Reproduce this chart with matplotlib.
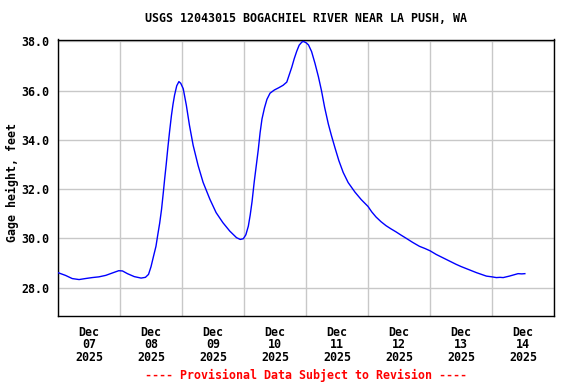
import matplotlib
matplotlib.use("Agg")
import matplotlib.pyplot as plt
import matplotlib.dates as mdates
import numpy as np
import pandas as pd

title = "USGS 12043015 BOGACHIEL RIVER NEAR LA PUSH, WA"
ylabel = "Gage height, feet"
footer = "---- Provisional Data Subject to Revision ----"
start = "2025-12-07 00:00"

# time since Dec 07 2025 00:00, in days
days = [0.00, 0.12, 0.23, 0.34, 0.44, 0.55, 0.66, 0.77, 0.88, 0.98,
        1.04, 1.12, 1.23, 1.34, 1.41, 1.46, 1.50, 1.54, 1.58, 1.61,
        1.64, 1.67, 1.70, 1.72, 1.745, 1.77, 1.80, 1.83, 1.855, 1.88,
        1.915, 1.95, 1.98, 2.02, 2.07, 2.12, 2.18, 2.26, 2.34, 2.45,
        2.55, 2.66, 2.77, 2.88, 2.94, 2.99, 3.03, 3.07, 3.10, 3.13,
        3.165, 3.20, 3.23, 3.26, 3.29, 3.33, 3.37, 3.42, 3.49, 3.56,
        3.63, 3.69, 3.73, 3.77, 3.81, 3.85, 3.89, 3.935, 3.96, 4.00,
        4.04, 4.09, 4.145, 4.20, 4.25, 4.30, 4.36, 4.41, 4.47, 4.53,
        4.60, 4.68, 4.79, 4.89, 5.00, 5.06, 5.13, 5.21, 5.29, 5.37,
        5.45, 5.53, 5.62, 5.72, 5.83, 5.92, 6.00, 6.10, 6.18, 6.26,
        6.34, 6.42, 6.50, 6.59, 6.67, 6.75, 6.83, 6.91, 7.00, 7.07,
        7.13, 7.18, 7.23, 7.28, 7.35, 7.42, 7.48, 7.53]
gage = [28.61, 28.50, 28.37, 28.33, 28.37, 28.41, 28.44, 28.50, 28.60, 28.69,
        28.68, 28.57, 28.45, 28.39, 28.42, 28.54, 28.85, 29.27, 29.68, 30.16,
        30.62, 31.18, 31.90, 32.41, 33.00, 33.64, 34.35, 35.00, 35.45, 35.82,
        36.20, 36.37, 36.30, 36.08, 35.41, 34.60, 33.78, 32.96, 32.28, 31.59,
        31.05, 30.64, 30.30, 30.03, 29.96, 29.99, 30.15, 30.50, 30.95, 31.50,
        32.30, 33.00, 33.60, 34.30, 34.85, 35.30, 35.65, 35.90, 36.03, 36.12,
        36.22, 36.35, 36.65, 36.95, 37.30, 37.60, 37.85, 37.98, 38.00, 37.95,
        37.86, 37.59, 37.11, 36.57, 36.00, 35.33, 34.65, 34.18, 33.66, 33.16,
        32.68, 32.27, 31.88, 31.58, 31.30, 31.08, 30.87, 30.68, 30.52, 30.39,
        30.27, 30.14, 30.00, 29.84, 29.68, 29.59, 29.50, 29.35, 29.25, 29.15,
        29.05, 28.95, 28.86, 28.77, 28.69, 28.61, 28.54, 28.47, 28.44, 28.41,
        28.42, 28.41, 28.44, 28.47, 28.52, 28.57, 28.56, 28.57]
yticks = [28.0, 30.0, 32.0, 34.0, 36.0, 38.0]

t0 = pd.Timestamp(start)
times = [t0 + pd.Timedelta(days=d) for d in days]

FONT = dict(family="DejaVu Sans Mono", weight="bold", size=8.4)

fig = plt.figure(figsize=(5.76, 3.84), dpi=100)
ax = fig.add_axes([58/576, 1 - 316/384, (554 - 58)/576, (316 - 39.5)/384])

ax.plot(times, gage, color="#0000ff", linewidth=1.0, zorder=3)

ax.set_xlim(t0, t0 + pd.Timedelta(days=8))
ax.set_ylim(26.85, 38.08)

ax.xaxis.set_major_locator(mdates.DayLocator())
ax.xaxis.set_major_formatter(plt.NullFormatter())
ax.xaxis.set_minor_locator(mdates.HourLocator(byhour=[12]))
ax.xaxis.set_minor_formatter(mdates.DateFormatter("%b\n%d\n%Y"))
ax.set_yticks(yticks)
ax.set_yticklabels([f"{v:.1f}" for v in yticks])

ax.grid(True, which="major", color="#c8c8c8", linewidth=1.0, zorder=0)
ax.tick_params(axis="both", which="both", length=0)
ax.tick_params(axis="x", which="minor", pad=7)
ax.tick_params(axis="y", pad=6)
for lab in ax.get_xticklabels(minor=True) + ax.get_yticklabels():
    lab.set_fontproperties(FONT)
for lab in ax.get_xticklabels(minor=True):
    lab.set_linespacing(0.95)

for s in ax.spines.values():
    s.set_color("black")
    s.set_linewidth(1.0)

xc = (58 + 554) / 2 / 576
fig.text(xc, 1 - 19/384, title, ha="center", va="center", **FONT)
fig.text(12/576, 1 - 183/384, ylabel, ha="center", va="center", rotation=90, **FONT)
fig.text(xc, 1 - 375/384, footer, ha="center", va="center", color="#ff0000", **FONT)

fig.savefig("out.png", dpi=100)
